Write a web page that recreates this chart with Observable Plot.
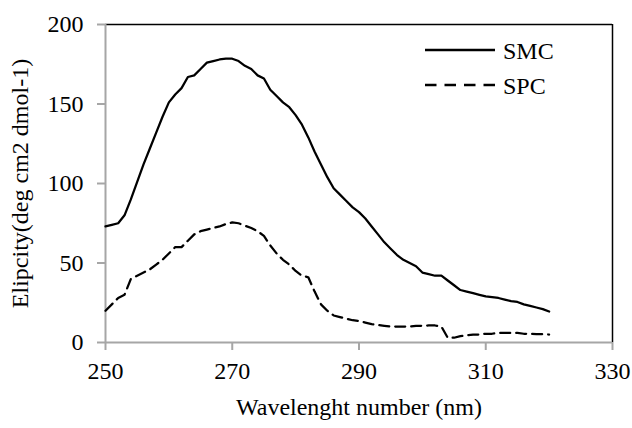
<!DOCTYPE html>
<html>
<head>
<meta charset="utf-8">
<script src="https://cdn.jsdelivr.net/npm/d3@7"></script>
<script src="https://cdn.jsdelivr.net/npm/@observablehq/plot@0.6"></script>
<style>
  html, body { margin: 0; padding: 0; background: #fff; }
  #wrap { position: relative; width: 632px; height: 428px; }
  #legend { position: absolute; left: 0; top: 0; width: 632px; height: 428px; pointer-events: none; }
</style>
</head>
<body style="font-family:'Liberation Serif';font-size:24px">
<div id="wrap">
  <svg id="legend" width="632" height="428">
    <line x1="425" x2="495" y1="50" y2="50" stroke="black" stroke-width="2.5"></line>
    <text x="503" y="59" style="font-family:'Liberation Serif';font-size:24px">SMC</text>
    <line x1="425" x2="495" y1="85" y2="85" stroke="black" stroke-width="2.5" stroke-dasharray="11.5,8"></line>
    <text x="503" y="94" style="font-family:'Liberation Serif';font-size:24px">SPC</text>
  </svg>
</div>
<script>
const wavelength = [250,251,252,253,254,255,256,257,258,259,260,261,262,263,264,265,266,267,268,269,270,271,272,273,274,275,276,277,278,279,280,281,282,283,284,285,286,287,288,289,290,291,292,293,294,295,296,297,298,299,300,301,302,303,304,305,306,307,308,309,310,311,312,313,314,315,316,317,318,319,320];
const smc = [73,74,75,80,90,101,112,122,132,142,151,156,160,167,168,172,176,177,178,178.5,178.5,177,174,172,168,166,159,155,151,148,143,137,129,120,112,104,97,93,89,85,82,78,73,68,63,59,55,52,50,48,44,43,42,42,39,36,33,32,31,30,29,28.5,28,27,26,25.5,24,23,22,21,19.5];
const spc = [20,24,28,30,40,42,44,46,49,52,56,60,60,64,68,70,71,72,73,74.5,75.5,75,73.5,72,70,67,61,56,52,49,45,42,41,32,24,20,17,16,15,14,13.5,12.5,11.5,11,10.5,10,10,10,10,10.5,10.5,10.7,10.7,10,3,3,4,4.5,5,5,5.5,5.5,6,6,6,6,5.5,5.5,5.3,5.2,5];
const seriesNames = ["SMC", "SPC"];
const xTicks = [250, 270, 290, 310, 330];
const yTicks = [0, 50, 100, 150, 200];
const xLabel = "Wavelenght number (nm)";
const yLabel = "Elipcity(deg cm2 dmol-1)";

const rows = [];
wavelength.forEach((w, i) => {
  rows.push({w, v: smc[i], s: seriesNames[0]});
  rows.push({w, v: spc[i], s: seriesNames[1]});
});

const gray = "#a6a6a6";

const chart = Plot.plot({
  width: 632,
  height: 428,
  marginLeft: 105,
  marginRight: 20,
  marginTop: 24,
  marginBottom: 86,
  style: {fontFamily: "Liberation Serif", fontSize: "24px", color: "black", background: "white"},
  x: {domain: [250, 330]},
  y: {domain: [0, 200]},
  marks: [
    Plot.ruleY([200], {stroke: "black", strokeWidth: 1.5}),
    Plot.ruleX([330], {stroke: "black", strokeWidth: 1.5}),
    Plot.ruleX([250], {stroke: gray, strokeWidth: 2}),
    Plot.ruleY([0], {stroke: gray, strokeWidth: 2}),
    Plot.axisX({ticks: xTicks, tickSize: 8, tickPadding: 11, stroke: gray, strokeWidth: 2, fill: "black",
                label: xLabel, labelAnchor: "center", labelArrow: "none", labelOffset: 72, tickFormat: d => String(d)}),
    Plot.axisY({ticks: yTicks, tickSize: 8, tickPadding: 14, stroke: gray, strokeWidth: 2, fill: "black",
                label: yLabel, labelAnchor: "center", labelArrow: "none", labelOffset: 95, tickFormat: d => String(d)}),
    Plot.line(rows.filter(d => d.s === seriesNames[0]), {x: "w", y: "v", stroke: "black", strokeWidth: 2.25, strokeLinejoin: "round"}),
    Plot.line(rows.filter(d => d.s === seriesNames[1]), {x: "w", y: "v", stroke: "black", strokeWidth: 2.25, strokeDasharray: "10,6", strokeLinejoin: "round"})
  ]
});

const wrap = document.getElementById("wrap");
wrap.insertBefore(chart, wrap.firstChild);
</script>
</body>
</html>
